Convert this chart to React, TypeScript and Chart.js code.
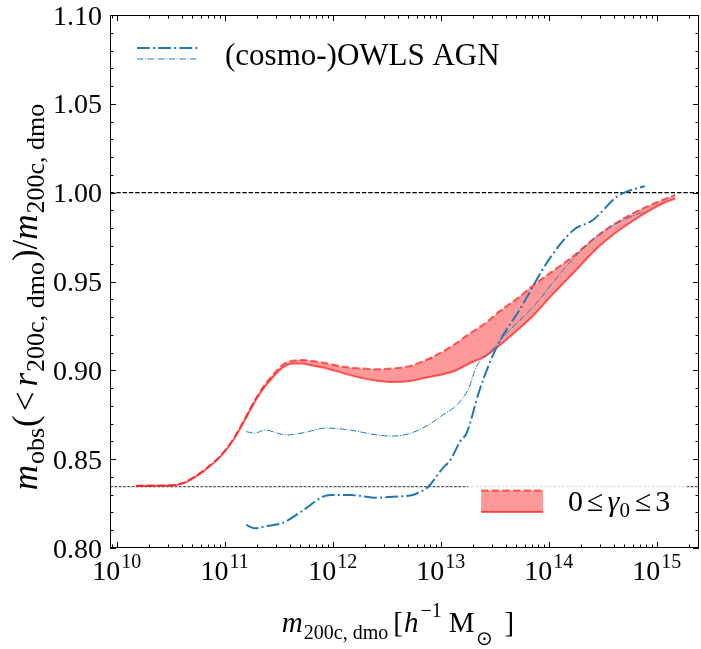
import { useEffect, useRef } from "react";
import { Chart, registerables } from "chart.js";

Chart.register(...registerables);

// ---- data (x values are log10 of m_200c,dmo [h^-1 Msun]) ----
const xLimitsLog = [9.938, 15.392];
const yLimits = [0.8, 1.1];
const xMajorDecades = [10, 11, 12, 13, 14, 15];
const yMajorTicks = [0.8, 0.85, 0.9, 0.95, 1.0, 1.05, 1.1];
const referenceLevels = [1.0, 0.8345];

const bandLowerLogM = [10.18, 10.35, 10.52, 10.62, 10.68, 10.8, 10.88, 10.96, 11.08, 11.17, 11.27, 11.36, 11.45, 11.54, 11.64, 11.72, 11.79, 11.94, 12.1, 12.25, 12.41, 12.56, 12.72, 12.87, 13.02, 13.12, 13.27, 13.43, 13.55, 13.73, 13.86, 14.04, 14.2, 14.48, 14.78, 15.09, 15.17];
const bandLowerValues = [0.8349, 0.835, 0.8352, 0.8365, 0.8383, 0.843, 0.847, 0.8514, 0.8608, 0.8702, 0.8814, 0.8899, 0.8964, 0.9017, 0.9038, 0.9038, 0.903, 0.9012, 0.8983, 0.8959, 0.8942, 0.8934, 0.894, 0.896, 0.8978, 0.8995, 0.904, 0.9086, 0.9143, 0.9237, 0.931, 0.943, 0.953, 0.9705, 0.9842, 0.9949, 0.9964];

const bandUpperLogM = [10.18, 10.35, 10.52, 10.62, 10.68, 10.8, 10.88, 10.96, 11.08, 11.17, 11.27, 11.36, 11.45, 11.54, 11.64, 11.73, 11.84, 11.94, 12.1, 12.25, 12.41, 12.56, 12.72, 12.85, 12.93, 13.12, 13.24, 13.43, 13.55, 13.73, 13.86, 14.04, 14.19, 14.48, 14.78, 15.09, 15.17];
const bandUpperValues = [0.8351, 0.8352, 0.8354, 0.8367, 0.8386, 0.8434, 0.8474, 0.8519, 0.8614, 0.8709, 0.8822, 0.891, 0.8978, 0.9033, 0.9055, 0.9058, 0.905, 0.904, 0.902, 0.9011, 0.9006, 0.9011, 0.9025, 0.9055, 0.9077, 0.9143, 0.9195, 0.9274, 0.9335, 0.9414, 0.948, 0.956, 0.9625, 0.9771, 0.9884, 0.9968, 0.9987];

const owlsThickLogM = [11.2, 11.28, 11.39, 11.54, 11.73, 11.91, 11.98, 12.16, 12.41, 12.56, 12.75, 12.81, 12.87, 13.02, 13.09, 13.18, 13.24, 13.36, 13.52, 13.73, 14.01, 14.23, 14.41, 14.63, 14.72, 14.89];
const owlsThickValues = [0.813, 0.8111, 0.8124, 0.8142, 0.8214, 0.8289, 0.8298, 0.8298, 0.8283, 0.8289, 0.83, 0.8317, 0.8336, 0.845, 0.8495, 0.86, 0.8646, 0.8889, 0.9133, 0.934, 0.963, 0.979, 0.9846, 0.9977, 1.0005, 1.0037];

const owlsThinLogM = [11.2, 11.28, 11.37, 11.57, 11.73, 11.94, 12.16, 12.41, 12.56, 12.72, 12.87, 13.02, 13.15, 13.26, 13.33, 13.46, 13.61, 13.83, 14.2, 14.48, 14.78, 14.89];
const owlsThinValues = [0.8655, 0.8646, 0.8664, 0.8636, 0.8649, 0.8675, 0.8664, 0.8636, 0.863, 0.8646, 0.8687, 0.8749, 0.8805, 0.8899, 0.902, 0.9105, 0.9208, 0.934, 0.961, 0.977, 0.987, 0.9893];

const owlsLabel = "(cosmo-)OWLS AGN";

// ---- styles ----
const SERIF = '"Liberation Serif", "Times New Roman", serif';
const BLUE = "#1f77b4";
const RED_LINE = "rgba(255,0,0,0.6)";
const RED_FILL = "rgba(255,0,0,0.4)";

const pts = (lx: number[], ys: number[]) => lx.map((v, i) => ({ x: Math.pow(10, v), y: ys[i] }));

type Run = { t: string; font: string; dy?: number; gap?: number };

function runsWidth(ctx: CanvasRenderingContext2D, runs: Run[]) {
  let total = 0;
  const widths = runs.map((r) => {
    ctx.font = r.font;
    const w = ctx.measureText(r.t).width;
    total += w + (r.gap || 0);
    return w;
  });
  return { total, widths };
}

function drawRuns(ctx: CanvasRenderingContext2D, runs: Run[], x0: number, baseline: number, align: "left" | "center") {
  const { total, widths } = runsWidth(ctx, runs);
  let x = align === "center" ? x0 - total / 2 : x0;
  ctx.textAlign = "left";
  ctx.textBaseline = "alphabetic";
  runs.forEach((r, i) => {
    x += r.gap || 0;
    ctx.font = r.font;
    ctx.fillText(r.t, x, baseline + (r.dy || 0));
    x += widths[i];
  });
}

const decorPlugin = {
  id: "decor",
  afterDraw(chart: any) {
    const ctx: CanvasRenderingContext2D = chart.ctx;
    const { left, right, top, bottom } = chart.chartArea;
    const xs = chart.scales.x;
    const ys = chart.scales.y;
    ctx.save();

    // bottom legend (semi-transparent white frame)
    const lgX = xs.getPixelForValue(Math.pow(10, 13.254));
    ctx.fillStyle = "rgba(255,255,255,0.8)";
    ctx.fillRect(lgX, bottom - 72, right - 12 - lgX, 48);
    const pX = lgX + 13;
    const pY = bottom - 57.5;
    const pW = 62;
    const pH = 21.5;
    ctx.fillStyle = RED_FILL;
    ctx.fillRect(pX, pY, pW, pH);
    ctx.strokeStyle = RED_LINE;
    ctx.lineWidth = 2;
    ctx.setLineDash([7.4, 3.2]);
    ctx.beginPath();
    ctx.moveTo(pX, pY);
    ctx.lineTo(pX + pW, pY);
    ctx.stroke();
    ctx.setLineDash([]);
    ctx.beginPath();
    ctx.moveTo(pX, pY + pH);
    ctx.lineTo(pX + pW, pY + pH);
    ctx.stroke();
    ctx.fillStyle = "#000";
    drawRuns(
      ctx,
      [
        { t: "0", font: `30px ${SERIF}` },
        { t: "≤", font: `30px ${SERIF}`, gap: 4 },
        { t: "γ", font: `italic 30px ${SERIF}`, gap: 4 },
        { t: "0", font: `21px ${SERIF}`, dy: 6 },
        { t: "≤", font: `30px ${SERIF}`, gap: 5 },
        { t: "3", font: `30px ${SERIF}`, gap: 4 },
      ],
      pX + pW + 25,
      bottom - 37,
      "left"
    );

    // top legend
    const hx0 = left + 27;
    const hx1 = left + 88;
    ctx.strokeStyle = BLUE;
    ctx.lineWidth = 2;
    ctx.setLineDash([12.8, 3.2, 2, 3.2]);
    ctx.beginPath();
    ctx.moveTo(hx0, top + 33);
    ctx.lineTo(hx1, top + 33);
    ctx.stroke();
    ctx.lineWidth = 1;
    ctx.setLineDash([6.4, 1.6, 1, 1.6]);
    ctx.beginPath();
    ctx.moveTo(hx0, top + 44);
    ctx.lineTo(hx1, top + 44);
    ctx.stroke();
    ctx.setLineDash([]);
    ctx.fillStyle = "#000";
    ctx.font = `31px ${SERIF}`;
    ctx.textAlign = "left";
    ctx.textBaseline = "alphabetic";
    ctx.fillText(owlsLabel, left + 115, top + 50);

    // frame
    ctx.strokeStyle = "#000";
    ctx.lineWidth = 1;
    ctx.strokeRect(left + 0.5, top + 0.5, right - left - 1, bottom - top - 1);

    // y ticks (inward, both sides)
    const yMin = yLimits[0];
    const yMax = yLimits[1];
    for (let k = 0; k <= Math.round((yMax - yMin) / 0.01); k++) {
      const v = yMin + k * 0.01;
      const major = k % 5 === 0;
      const len = major ? 6 : 3.5;
      const py = Math.round(ys.getPixelForValue(v)) + 0.5;
      ctx.beginPath();
      ctx.moveTo(left, py);
      ctx.lineTo(left + len, py);
      ctx.moveTo(right, py);
      ctx.lineTo(right - len, py);
      ctx.stroke();
    }
    // x ticks
    for (let d = Math.floor(xLimitsLog[0]); d <= Math.ceil(xLimitsLog[1]); d++) {
      for (let m = 1; m <= 9; m++) {
        const val = m * Math.pow(10, d);
        if (val < xs.min || val > xs.max) continue;
        const len = m === 1 ? 6 : 3.5;
        const px = Math.round(xs.getPixelForValue(val)) + 0.5;
        ctx.beginPath();
        ctx.moveTo(px, bottom);
        ctx.lineTo(px, bottom - len);
        ctx.moveTo(px, top);
        ctx.lineTo(px, top + len);
        ctx.stroke();
      }
    }

    // y tick labels
    ctx.fillStyle = "#000";
    ctx.font = `28px ${SERIF}`;
    ctx.textAlign = "right";
    ctx.textBaseline = "alphabetic";
    yMajorTicks.forEach((v) => {
      ctx.fillText(v.toFixed(2), left - 8, ys.getPixelForValue(v) + 9.5);
    });

    // x tick labels 10^n
    xMajorDecades.forEach((d) => {
      const px = xs.getPixelForValue(Math.pow(10, d));
      drawRuns(
        ctx,
        [
          { t: "10", font: `28px ${SERIF}` },
          { t: String(d), font: `20px ${SERIF}`, dy: -12, gap: 1 },
        ],
        px,
        bottom + 32,
        "center"
      );
    });

    // x title
    drawRuns(
      ctx,
      [
        { t: "m", font: `italic 29px ${SERIF}` },
        { t: "200c, dmo", font: `20px ${SERIF}`, dy: 7, gap: 1 },
        { t: "[", font: `29px ${SERIF}`, gap: 5 },
        { t: "h", font: `italic 29px ${SERIF}`, gap: 1 },
        { t: "−1", font: `20px ${SERIF}`, dy: -15, gap: 2 },
        { t: "M", font: `29px ${SERIF}`, gap: 7 },
        { t: "⊙", font: `20px ${SERIF}`, dy: 13, gap: 2 },
        { t: "]", font: `29px ${SERIF}`, gap: 11 },
      ],
      398,
      632,
      "center"
    );

    // y title (rotated)
    ctx.save();
    ctx.translate(37, 297);
    ctx.rotate(-Math.PI / 2);
    drawRuns(
      ctx,
      [
        { t: "m", font: `italic 35px ${SERIF}` },
        { t: "obs", font: `26px ${SERIF}`, dy: 7, gap: 1 },
        { t: "(", font: `35px ${SERIF}`, gap: 1 },
        { t: "<", font: `35px ${SERIF}`, gap: 4 },
        { t: "r", font: `italic 35px ${SERIF}`, gap: 5 },
        { t: "200c, dmo", font: `26px ${SERIF}`, dy: 7, gap: 1 },
        { t: ")/", font: `35px ${SERIF}`, gap: 1 },
        { t: "m", font: `italic 35px ${SERIF}` },
        { t: "200c, dmo", font: `26px ${SERIF}`, dy: 7, gap: 1 },
      ],
      0,
      0,
      "center"
    );
    ctx.restore();

    ctx.restore();
  },
};

export default function App() {
  const ref = useRef<HTMLCanvasElement | null>(null);
  useEffect(() => {
    if (!ref.current) return;
    const xMin = Math.pow(10, xLimitsLog[0]);
    const xMax = Math.pow(10, xLimitsLog[1]);
    const refLine = (v: number) => [
      { x: xMin, y: v },
      { x: xMax, y: v },
    ];
    const chart = new Chart(ref.current, {
      type: "line",
      data: {
        datasets: [
          {
            label: "lower",
            data: pts(bandLowerLogM, bandLowerValues),
            borderColor: RED_LINE,
            borderWidth: 2,
            pointRadius: 0,
            fill: false,
            cubicInterpolationMode: "monotone",
            order: 5,
          },
          {
            label: "upper",
            data: pts(bandUpperLogM, bandUpperValues),
            borderColor: RED_LINE,
            backgroundColor: RED_FILL,
            borderWidth: 2,
            borderDash: [7.4, 3.2],
            pointRadius: 0,
            fill: "-1",
            cubicInterpolationMode: "monotone",
            order: 4,
          },
          {
            label: "owls thick",
            data: pts(owlsThickLogM, owlsThickValues),
            borderColor: BLUE,
            borderWidth: 2,
            borderDash: [12.8, 3.2, 2, 3.2],
            pointRadius: 0,
            fill: false,
            cubicInterpolationMode: "monotone",
            order: 2,
          },
          {
            label: "owls thin",
            data: pts(owlsThinLogM, owlsThinValues),
            borderColor: BLUE,
            borderWidth: 1,
            borderDash: [6.4, 1.6, 1, 1.6],
            pointRadius: 0,
            fill: false,
            cubicInterpolationMode: "monotone",
            order: 1,
          },
          {
            label: "ref1",
            data: refLine(referenceLevels[0]),
            borderColor: "#000",
            borderWidth: 1.2,
            borderDash: [4.4, 1.9],
            pointRadius: 0,
            fill: false,
            order: 6,
          },
          {
            label: "ref2",
            data: refLine(referenceLevels[1]),
            borderColor: "#000",
            borderWidth: 0.8,
            borderDash: [3, 1.3],
            pointRadius: 0,
            fill: false,
            order: 7,
          },
        ],
      } as any,
      options: {
        responsive: false,
        animation: false,
        devicePixelRatio: 1,
        layout: { padding: { left: 0, top: 15, right: 2, bottom: 0 } },
        plugins: { legend: { display: false }, tooltip: { enabled: false } },
        events: [],
        scales: {
          x: {
            type: "logarithmic",
            min: xMin,
            max: xMax,
            ticks: { display: false },
            grid: { display: false },
            border: { display: false },
            afterFit: (s: any) => {
              s.height = 101;
            },
          },
          y: {
            type: "linear",
            min: yLimits[0],
            max: yLimits[1],
            ticks: { display: false },
            grid: { display: false },
            border: { display: false },
            afterFit: (s: any) => {
              s.width = 110;
            },
          },
        },
      } as any,
      plugins: [decorPlugin],
    });
    return () => chart.destroy();
  }, []);
  return (
    <div style={{ position: "absolute", left: 0, top: 0, width: 701, height: 649, background: "#fff" }}>
      <canvas ref={ref} width={701} height={649} />
    </div>
  );
}
